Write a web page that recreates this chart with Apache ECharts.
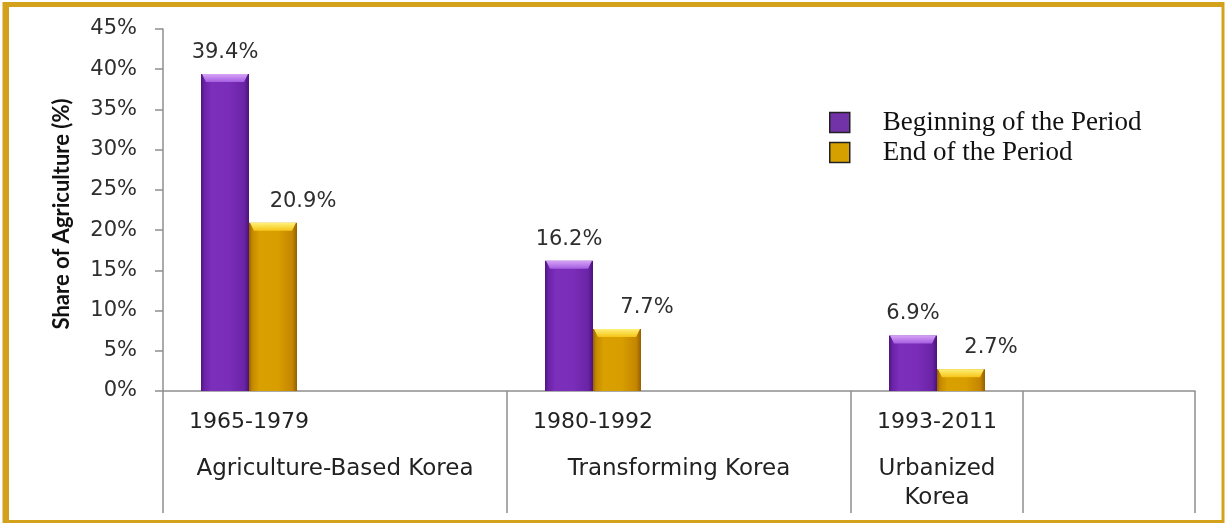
<!DOCTYPE html>
<html><head><meta charset="utf-8">
<script src="https://cdn.jsdelivr.net/npm/echarts@6/dist/echarts.min.js"></script>
<style>html,body{margin:0;padding:0;background:#fff}#c{width:1226px;height:524px}</style>
</head><body><div id="c"></div>
<script>
// ---- data ----
const categories = ['1965-1979', '', '1980-1992', '', '1993-2011', ''];
const groupLabels = ['Agriculture-Based Korea', 'Transforming Korea', 'Urbanized\nKorea'];
const groupLabelPositions = [1, 3, 4.5];
const groupDividers = [0, 2, 4, 5, 6];
const seriesNames = ['Beginning of the Period', 'End of the Period'];
const beginning = [39.4, null, 16.2, null, 6.9, null];
const endPeriod = [20.9, null, 7.7, null, 2.7, null];
const yMin = 0, yMax = 45, yStep = 5;

// ---- styles ----
const axisGray = '#8f8f8f';
const borderGold = '#d4a21a';
const BAR_W = 48;
function hgrad(stops) {
  return new echarts.graphic.LinearGradient(0, 0, 1, 0, stops.map((c) => ({offset: c[0], color: c[1]})));
}
const purpleBody = hgrad([[0, '#4f167e'], [0.07, '#6a22a6'], [0.22, '#7b2fbb'], [0.6, '#7a2db8'], [0.9, '#6a23a6'], [1, '#4a1378']]);
const goldBody = hgrad([[0, '#9a6200'], [0.07, '#c68a00'], [0.22, '#d9a000'], [0.6, '#d89e00'], [0.9, '#c48600'], [1, '#955f00']]);
const capColors = [
  ['#d7a3f7', '#a45ee0'],
  ['#fff07a', '#f5c414']
];

function capSeries(values, side) {
  const data = [];
  values.forEach((v, i) => { if (v != null) data.push([i, v]); });
  return {
    type: 'custom',
    coordinateSystem: 'cartesian2d',
    xAxisIndex: 0, yAxisIndex: 0,
    silent: true, z: 5,
    data: data,
    renderItem: function (params, api) {
      const p = api.coord([api.value(0), api.value(1)]);
      const x0 = side === 0 ? p[0] - BAR_W : p[0];
      const x1 = x0 + BAR_W;
      const y0 = p[1];
      const h = 8;
      return {
        type: 'polygon',
        shape: {points: [[x0 + 1, y0], [x1 - 1, y0], [x1 - 5, y0 + h], [x0 + 5, y0 + h]]},
        style: {
          fill: new echarts.graphic.LinearGradient(0, 0, 0, 1, [
            {offset: 0, color: capColors[side][0]}, {offset: 1, color: capColors[side][1]}
          ])
        }
      };
    }
  };
}

const labelFont = {fontFamily: 'DejaVu Sans', fontSize: 21, color: '#2e2e2e'};

const chart = echarts.init(document.getElementById('c'), null, {renderer: 'canvas'});
chart.setOption({
  animation: false,
  backgroundColor: '#ffffff',
  grid: {left: 163, right: 31, top: 29, bottom: 133, containLabel: false},
  legend: {
    orient: 'vertical', left: 829, top: 109, padding: 0,
    itemWidth: 20, itemHeight: 20, itemGap: 3,
    textStyle: {fontFamily: 'Liberation Serif', fontSize: 27, lineHeight: 26, color: '#111', padding: [0, 0, 0, 28]},
    data: [
      {name: seriesNames[0], icon: 'rect', itemStyle: {color: '#7232a8', borderColor: '#222', borderWidth: 1.5}},
      {name: seriesNames[1], icon: 'rect', itemStyle: {color: '#d6a000', borderColor: '#222', borderWidth: 1.5}}
    ]
  },
  xAxis: [
    {
      type: 'category', data: categories, position: 'bottom',
      axisLine: {show: true, lineStyle: {color: axisGray, width: 1.5}},
      axisTick: {show: false},
      axisLabel: {interval: 0, margin: 20, fontFamily: 'DejaVu Sans', fontSize: 22, color: '#222'},
      splitLine: {show: false}
    },
    {
      type: 'value', min: 0, max: 6, position: 'bottom',
      axisLine: {show: false},
      axisTick: {show: true, customValues: groupDividers, length: 122, lineStyle: {color: axisGray, width: 1.5}},
      axisLabel: {
        customValues: groupLabelPositions, margin: 64,
        fontFamily: 'DejaVu Sans', fontSize: 23, color: '#222', lineHeight: 29,
        formatter: function (v) {
          const i = groupLabelPositions.indexOf(v);
          return i >= 0 ? groupLabels[i] : '';
        }
      },
      splitLine: {show: false}
    }
  ],
  yAxis: {
    type: 'value', min: yMin, max: yMax, interval: yStep,
    name: 'Share of Agriculture (%)', nameLocation: 'middle', nameGap: 90, nameRotate: 90,
    nameTextStyle: {fontFamily: 'Lato', fontWeight: 'bold', fontSize: 22, color: '#111', padding: [0, 0, 0, -8]},
    axisLine: {show: true, lineStyle: {color: axisGray, width: 1.5}},
    axisTick: {show: true, length: 8, lineStyle: {color: axisGray, width: 1.5}},
    axisLabel: Object.assign({formatter: '{value}%', margin: 26}, labelFont),
    splitLine: {show: false}
  },
  series: [
    {
      name: seriesNames[0], type: 'bar', xAxisIndex: 0, yAxisIndex: 0,
      data: beginning, barWidth: BAR_W, barGap: '0%',
      itemStyle: {color: purpleBody},
      label: {show: true, position: 'top', distance: 11, formatter: p => p.value.toFixed(1) + '%', ...labelFont}
    },
    {
      name: seriesNames[1], type: 'bar', xAxisIndex: 0, yAxisIndex: 0,
      data: endPeriod, barWidth: BAR_W, barGap: '0%',
      itemStyle: {color: goldBody},
      label: {show: true, position: 'top', distance: 11, offset: [30, 0], formatter: p => p.value.toFixed(1) + '%', ...labelFont}
    },
    capSeries(beginning, 0),
    capSeries(endPeriod, 1)
  ],
  graphic: [
    {type: 'rect', z: 100, silent: true,
     shape: {x: 4, y: 3.5, width: 1219, height: 518},
     style: {fill: 'none', stroke: borderGold, lineWidth: 3}},
    {type: 'rect', z: 100, silent: true,
     shape: {x: 3, y: 2, width: 1221, height: 5},
     style: {fill: borderGold}},
    {type: 'rect', z: 100, silent: true,
     shape: {x: 3, y: 2, width: 6, height: 520},
     style: {fill: borderGold}}
  ]
});
</script>
</body></html>
